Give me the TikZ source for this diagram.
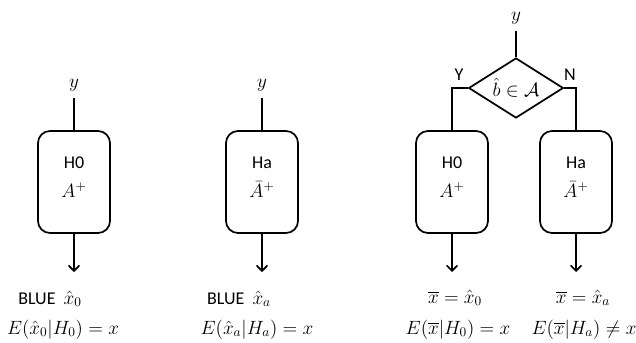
\documentclass[tikz,border=0pt]{standalone}
\usepackage{amssymb,amsmath}
\usepackage{fontspec}
\setmainfont{Carlito}
\usepackage{tikz}
\usetikzlibrary{shapes.geometric,arrows}
\tikzstyle{line} = [line width=1.3pt]
\tikzstyle{arrow} = [line width=1.3pt,->,>=angle 90]
\tikzstyle{hypbox} = [draw,line width=1.3pt,rounded corners=9pt,minimum width=54pt,minimum height=76.5pt]
\tikzstyle{test} = [draw,line width=1.3pt,diamond,aspect=1.6,inner sep=0pt,minimum width=71pt,minimum height=45pt,font=\fontsize{14.5}{16}\selectfont]
\tikzstyle{ylab} = [anchor=south,inner sep=0pt,outer sep=5pt,font=\fontsize{14.5}{16}\selectfont]
\tikzstyle{txt} = [anchor=base,inner sep=0pt,font=\fontsize{13.5}{15}\selectfont]
\tikzstyle{eq} = [anchor=base,inner sep=0pt,font=\fontsize{14.5}{16}\selectfont]
\newcommand{\mth}[1]{{\fontsize{14.5}{16}\selectfont$#1$}}

\begin{document}
\begin{tikzpicture}[x=0.75pt,y=-0.75pt]
\useasboundingbox (0,0) rectangle (636,343);
% H0 only
\node[ylab] (y0) at (74,98) {$y$};
\node[hypbox] (box0) at (74,182) {};
\node[txt] (h0) at (74,168) {H0};
\node[eq] (ap0) at (74,197) {$A^+$};
\coordinate (out0) at (74,272);
\draw[line] (y0.south) -- (box0.north);
\draw[arrow] (box0.south) -- (out0);
\node[txt] (blue0) at (50,304) {BLUE\ \ \mth{\hat{x}_0}};
\node[eq] (exp0) at (63,334) {$E(\hat{x}_0|H_0)=x$};
% Ha only
\node[ylab] (y1) at (262,98) {$y$};
\node[hypbox] (box1) at (262,182) {};
\node[txt] (ha1) at (262,168) {Ha};
\node[eq] (ap1) at (262,197) {$\bar{A}^+$};
\coordinate (out1) at (262,272);
\draw[line] (y1.south) -- (box1.north);
\draw[arrow] (box1.south) -- (out1);
\node[txt] (blue1) at (239,304) {BLUE\ \ \mth{\hat{x}_a}};
\node[eq] (exp1) at (257,334) {$E(\hat{x}_a|H_a)=x$};
% test, then H0 or Ha
\node[ylab] (y2) at (516,31) {$y$};
\node[test] (dec) at (516,88) {$\hat{b}\in\mathcal{A}$};
\draw[line] (y2.south) -- (dec.north);
\node[txt] (yes) at (459,80) {Y};
\node[txt] (no) at (570,80) {N};
\node[hypbox] (box2) at (452,182) {};
\node[hypbox] (box3) at (576,182) {};
\draw[line] (dec.west) -| (box2.north);
\draw[line] (dec.east) -| (box3.north);
\node[txt] (h02) at (452,168) {H0};
\node[eq] (ap2) at (452,197) {$A^+$};
\node[txt] (ha3) at (576,168) {Ha};
\node[eq] (ap3) at (576,197) {$\bar{A}^+$};
\coordinate (out2) at (452,272);
\coordinate (out3) at (576,272);
\draw[arrow] (box2.south) -- (out2);
\draw[arrow] (box3.south) -- (out3);
\node[eq] (sel2) at (455,303) {$\overline{x}=\hat{x}_0$};
\node[eq] (sel3) at (583,303) {$\overline{x}=\hat{x}_a$};
\node[eq] (exp2) at (458,334) {$E(\overline{x}|H_0)=x$};
\node[eq] (exp3) at (584,334) {$E(\overline{x}|H_a)\neq x$};
\end{tikzpicture}
\end{document}
